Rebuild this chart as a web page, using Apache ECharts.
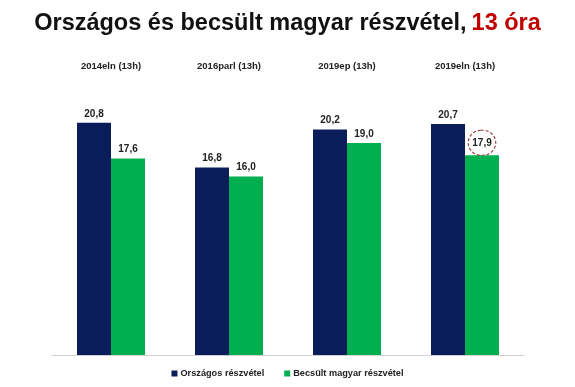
<!DOCTYPE html>
<html>
<head>
<meta charset="utf-8">
<script src="https://cdn.jsdelivr.net/npm/echarts@6/dist/echarts.min.js"></script>
<style>html,body{margin:0;padding:0;background:#fff}#c{width:575px;height:387px}</style>
</head>
<body>
<div id="c"></div>
<script>
var categories = ['2014eln (13h)', '2016parl (13h)', '2019ep (13h)', '2019eln (13h)'];
var orszagos = [20.8, 16.8, 20.2, 20.7];
var becsult = [17.6, 16.0, 19.0, 17.9];
var seriesNames = ['Országos részvétel', 'Becsült magyar részvétel'];
var highlightIndex = 3;

var chart = echarts.init(document.getElementById('c'));
function fmt(p){ return p.value.toFixed(1).replace('.', ','); }
var labelBase = {show:true, position:'top', distance:4, fontFamily:'Liberation Sans, Arial', fontWeight:'bold', fontSize:10, color:'#222', formatter:fmt};
chart.setOption({
  animation:false,
  title:{
    text:'{a|Országos és becsült magyar részvétel,} {b|13 óra}',
    left:'center', top:7,
    textStyle:{rich:{
      a:{fontFamily:'Liberation Sans, Arial', fontWeight:'bold', fontSize:23.5, color:'#111'},
      b:{fontFamily:'Liberation Sans, Arial', fontWeight:'bold', fontSize:23.5, color:'#c00000'}
    }}
  },
  legend:{
    bottom:4, left:'center', itemWidth:6, itemHeight:6, itemGap:20, icon:'rect',
    textStyle:{fontFamily:'Liberation Sans, Arial', fontWeight:'bold', fontSize:9.2, color:'#222', padding:[0,0,0,-2]},
    data:seriesNames
  },
  grid:{left:52, right:51, top:76, bottom:32},
  xAxis:[
    {type:'category', data:categories, position:'bottom', axisLine:{show:true, lineStyle:{color:'#d0d0d0', width:1}}, axisTick:{show:false}, axisLabel:{show:false}},
    {type:'category', data:categories, position:'top', axisLine:{show:false}, axisTick:{show:false},
     axisLabel:{margin:5, fontFamily:'Liberation Sans, Arial', fontWeight:'bold', fontSize:9.5, color:'#222'}}
  ],
  yAxis:{type:'value', min:0, max:25, show:false, splitLine:{show:false}},
  series:[
    {name:seriesNames[0], type:'bar', data:orszagos, barWidth:34, barGap:'0%', itemStyle:{color:'#0a1d5a'}, label:labelBase},
    {name:seriesNames[1], type:'bar', data:becsult.map(function(v,i){
        if(i===highlightIndex){
          return {value:v, label:{distance:0, padding:[8,4,7,4], borderColor:'#a03a3a', borderWidth:1.2, borderType:[3,2], borderRadius:15}};
        }
        return v;
      }), barWidth:34, itemStyle:{color:'#00b050'}, label:labelBase}
  ]
});
</script>
</body>
</html>
